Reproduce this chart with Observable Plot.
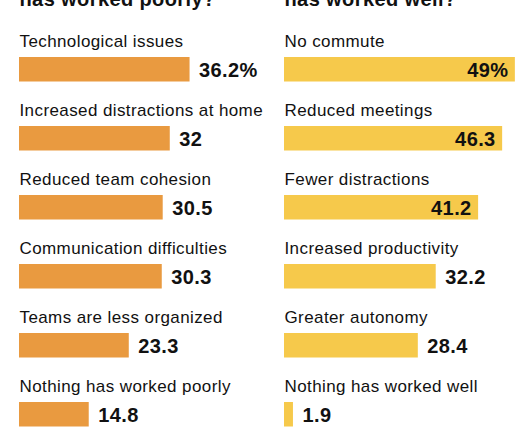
<!DOCTYPE html>
<html>
<head>
<meta charset="utf-8">
<script src="https://cdn.jsdelivr.net/npm/d3@7"></script>
<script src="https://cdn.jsdelivr.net/npm/@observablehq/plot@0.6"></script>
<style>
  html, body { margin: 0; padding: 0; background: #fff; }
  #wrap { display: flex; flex-direction: row; width: 530px; height: 442px; overflow: hidden; }
  #wrap svg text { letter-spacing: 0.4px; }
</style>
</head>
<body>
<div id="wrap"></div>
<script>
// ---- data ----
const poorlyHeading = "has worked poorly?";
const poorlyCategories = ["Technological issues", "Increased distractions at home", "Reduced team cohesion", "Communication difficulties", "Teams are less organized", "Nothing has worked poorly"];
const poorlyValues = [36.2, 32, 30.5, 30.3, 23.3, 14.8];

const wellHeading = "has worked well?";
const wellCategories = ["No commute", "Reduced meetings", "Fewer distractions", "Increased productivity", "Greater autonomy", "Nothing has worked well"];
const wellValues = [49, 46.3, 41.2, 32.2, 28.4, 1.9];

const colors = {poorly: "#e99a40", well: "#f6c94b"};

function panel(heading, categories, values, color) {
  const rows = categories.map((c, i) => ({
    category: c,
    value: values[i],
    label: i === 0 ? values[i] + "%" : String(values[i]),
    inside: values[i] > 40
  }));
  const font = "'Liberation Sans', Arial, Helvetica, sans-serif";
  return Plot.plot({
    width: 265,
    height: 442,
    marginLeft: 19,
    marginRight: 1,
    marginTop: 20,
    marginBottom: 5,
    style: {fontFamily: font, background: "white", color: "#111"},
    x: {domain: [0, 52], axis: null},
    y: {domain: categories, axis: null, padding: 0},
    marks: [
      Plot.barX(rows, {x: "value", y: "category", fill: color, insetTop: 35, insetBottom: 9.5}),
      Plot.text(rows, {x: 0, y: "category", text: "category", textAnchor: "start", lineAnchor: "bottom", dy: -9.75, fontSize: 17, fill: "#111"}),
      Plot.text(rows.filter(d => !d.inside), {x: "value", y: "category", text: "label", textAnchor: "start", lineAnchor: "bottom", dx: 9, dy: 19.75, fontSize: 20, fontWeight: "bold", fill: "#111"}),
      Plot.text(rows.filter(d => d.inside), {x: "value", y: "category", text: "label", textAnchor: "end", lineAnchor: "bottom", dx: -7, dy: 19.75, fontSize: 20, fontWeight: "bold", fill: "#111"}),
      Plot.text([heading], {frameAnchor: "top-left", text: d => d, textAnchor: "start", lineAnchor: "bottom", dy: -15, fontSize: 20, fontWeight: "bold", fill: "#111"})
    ]
  });
}

const wrap = document.getElementById("wrap");
wrap.appendChild(panel(poorlyHeading, poorlyCategories, poorlyValues, colors.poorly));
wrap.appendChild(panel(wellHeading, wellCategories, wellValues, colors.well));
</script>
</body>
</html>
